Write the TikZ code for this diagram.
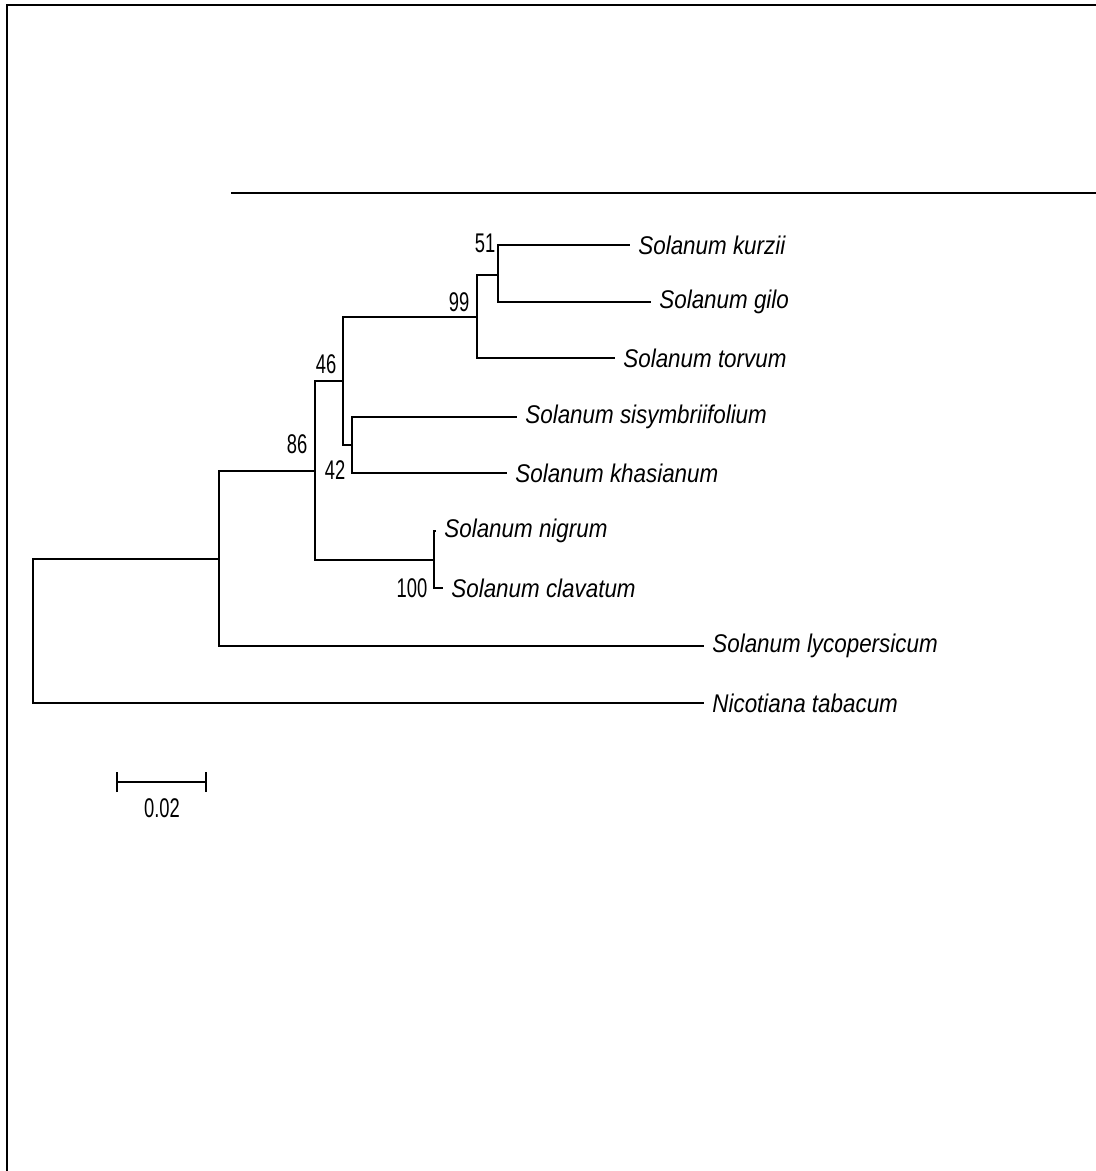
\documentclass[tikz,border=0pt]{standalone}
\usepackage{fontspec}
\usetikzlibrary{arrows.meta}
\newfontfamily\fuenteespecie[FakeStretch=0.875]{Liberation Sans}
\newfontfamily\fuentesoporte[FakeStretch=0.68]{Liberation Sans}

\begin{document}
\begin{tikzpicture}[
        x=0.5pt, y=-0.5pt,
        rama/.style={line width=0.95pt},
        marco/.style={line width=1.3pt},
        especie/.style={
            anchor=west,
            inner xsep=4pt,
            inner ysep=0pt,
            font=\fuenteespecie\itshape\fontsize{12.8}{14}\selectfont
        },
        soporte/.style={
            inner sep=0pt,
            font=\fuentesoporte\fontsize{13.5}{15}\selectfont
        }
    ]
        \useasboundingbox (0,0) rectangle (1096,1171);

        % marco de la figura
        \draw[marco] (7,1171) -- (7,5) -- (1096,5);
        \draw[marco] (231,193) -- (1096,193);

        % nodos internos
        \coordinate (raiz) at (33,631);
        \coordinate (nA) at (219,559);
        \coordinate (nB) at (315,471);
        \coordinate (nC) at (343,381);
        \coordinate (nD) at (477,317);
        \coordinate (nF) at (498,275);
        \coordinate (nE) at (352,445);
        \coordinate (nG) at (434,560);

        % especies
        \node[especie] (kurzii) at (630,245) {Solanum kurzii};
        \node[especie] (gilo) at (651,302) {Solanum gilo};
        \node[especie] (torvum) at (615,358) {Solanum torvum};
        \node[especie] (sisymbriifolium) at (517,417) {Solanum sisymbriifolium};
        \node[especie] (khasianum) at (507,473) {Solanum khasianum};
        \node[especie] (nigrum) at (436,531) {Solanum nigrum};
        \node[especie] (clavatum) at (443,588) {Solanum clavatum};
        \node[especie] (lycopersicum) at (704,646) {Solanum lycopersicum};
        \node[especie] (tabacum) at (704,703) {Nicotiana tabacum};

        % ramas
        \draw[rama] (raiz) |- (nA);
        \draw[rama] (raiz) |- (tabacum.west);
        \draw[rama] (nA) |- (nB);
        \draw[rama] (nA) |- (lycopersicum.west);
        \draw[rama] (nB) |- (nC);
        \draw[rama] (nB) |- (nG);
        \draw[rama] (nC) |- (nD);
        \draw[rama] (nC) |- (nE);
        \draw[rama] (nD) |- (nF);
        \draw[rama] (nD) |- (torvum.west);
        \draw[rama] (nF) |- (kurzii.west);
        \draw[rama] (nF) |- (gilo.west);
        \draw[rama] (nE) |- (sisymbriifolium.west);
        \draw[rama] (nE) |- (khasianum.west);
        \draw[rama] (nG) |- (nigrum.west);
        \draw[rama] (nG) |- (clavatum.west);

        % valores de soporte
        \node[soporte] (s51) at (485,243) {51};
        \node[soporte] (s99) at (459,302) {99};
        \node[soporte] (s46) at (326,364) {46};
        \node[soporte] (s86) at (297,444) {86};
        \node[soporte] (s42) at (335,470) {42};
        \node[soporte] (s100) at (412,588) {100};

        % barra de escala
        \coordinate (escalaizq) at (116,782);
        \coordinate (escalader) at (207,782);
        \draw[rama, {Bar[width=10pt]}-{Bar[width=10pt]}] (escalaizq) -- (escalader);
        \node[soporte] (escala) at (162,808) {0.02};
    \end{tikzpicture}
\end{document}
